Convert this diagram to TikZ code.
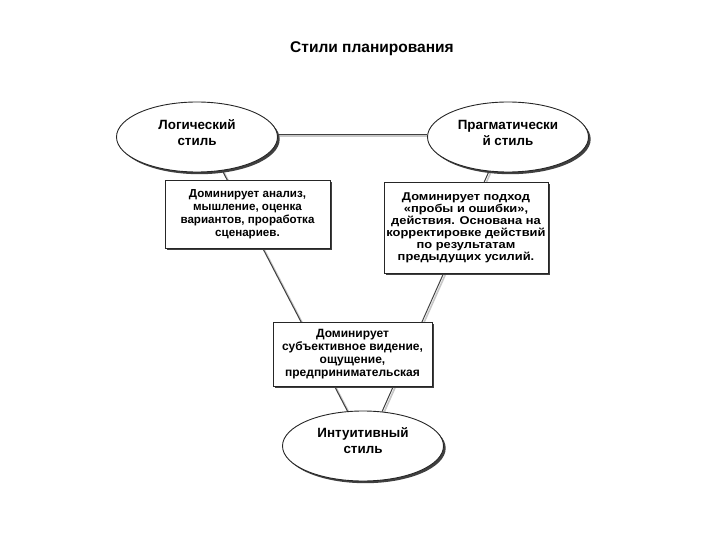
\documentclass[tikz,border=0pt]{standalone}
\usepackage{fontspec}
\setmainfont{Liberation Sans}
\newfontfamily\widesans[FakeStretch=1.14]{Liberation Sans}
\usetikzlibrary{shapes.geometric,shadows,backgrounds}
\begin{document}
\begin{tikzpicture}[x=1pt,y=-1pt,
  shad/.style={drop shadow={shadow xshift=2.2pt,shadow yshift=-2.2pt,fill=black!75,opacity=1}},
  ell/.style={ellipse,draw=black!85,line width=0.9pt,fill=white,minimum width=161pt,minimum height=70pt,inner sep=0pt,shad},
  elltext/.style={align=center,font=\fontsize{13.4}{16}\selectfont\bfseries,inner sep=0pt},
  txtbox/.style={rectangle,draw=black!85,line width=0.9pt,fill=white,align=center,font=\fontsize{11.6}{12.9}\selectfont\bfseries,inner sep=0pt,shad},
  link/.style={draw=black!75,line width=1pt,preaction={draw=black!22,line width=1.6pt,transform canvas={shift={(1.6pt,-1.6pt)}}}}]
\useasboundingbox (0,0) rectangle (720,540);
\node[font=\fontsize{15.5}{18}\selectfont\bfseries] (title) at (372,49) {Стили планирования};
\node[ell] (L) at (197,137) {};
\node[ell] (R) at (508,137) {};
\node[ell] (B) at (363,446) {};
\node[elltext] (Lt) at (197,133) {Логический\\стиль};
\node[elltext] (Rt) at (508,133) {Прагматически\\й стиль};
\node[elltext] (Bt) at (363,441) {Интуитивный\\стиль};
\node[txtbox,minimum width=165pt,minimum height=68pt] (b1) at (247.5,214) {Доминирует анализ,\\мышление, оценка\\вариантов, проработка\\сценариев.};
\node[txtbox,minimum width=164pt,minimum height=91pt,font=\widesans\fontsize{11.3}{12}\selectfont\bfseries] (b2) at (466,227.5) {Доминирует подход\\«пробы и ошибки»,\\действия. Основана на\\корректировке действий\\по результатам\\предыдущих усилий.};
\node[txtbox,minimum width=159pt,minimum height=64pt,font=\fontsize{12}{13}\selectfont\bfseries] (b3) at (352.5,354) {Доминирует\\субъективное видение,\\ощущение,\\предпринимательская};
\begin{scope}[on background layer]
\draw[link] (L.2) -- (R.178);
\draw[link] (L.-53) -- (B.114);
\draw[link] (R.-119) -- (B.61);
\end{scope}
\end{tikzpicture}
\end{document}
